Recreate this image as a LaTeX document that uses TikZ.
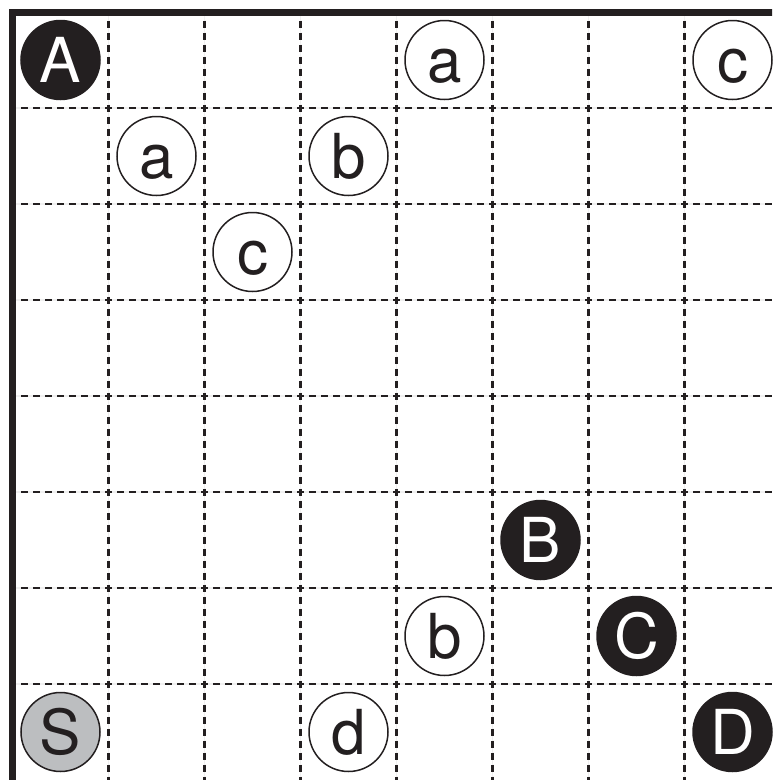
\documentclass[tikz,border=0pt]{standalone}
\usepackage{fontspec}
\setmainfont{TeX Gyre Heros}
\definecolor{ink}{HTML}{231F20}
\definecolor{sgray}{HTML}{BCBEC0}
\begin{document}
\begin{tikzpicture}[x=1pt,y=-1pt,
  gridline/.style={ink,line width=2.4pt,dash pattern=on 7pt off 5pt,dash phase=3.5pt},
  faint/.style={black!6,line width=1.5pt},
  border/.style={ink,line width=7pt,line join=miter},
  piece/.style={circle,draw=ink,line width=1.5pt,minimum size=79pt,inner sep=0pt,
    text height=45pt,text depth=0pt,font=\fontsize{62}{62}\selectfont,fill=white,text=ink},
  blackpiece/.style={piece,fill=ink,text=white},
  graypiece/.style={piece,fill=sgray}]
\useasboundingbox (0,0) rectangle (772,780);
\begin{scope}
\clip (0,0) rectangle (772,780);
\foreach \k in {1,...,7}{
  \draw[faint] ({12.5+96*\k},12) -- ({12.5+96*\k},780);
  \draw[faint] (12.5,{12+96*\k}) -- (772,{12+96*\k});
  \draw[gridline] ({12.5+96*\k},12) -- ({12.5+96*\k},784);
  \draw[gridline] (12.5,{12+96*\k}) -- (784,{12+96*\k});
}
\draw[border] (780,12) -- (12.5,12) -- (12.5,790);
\end{scope}
\node[blackpiece] (A)  at (60.5,60) {A};
\node[piece]      (a1) at ({60.5+96*4},60) {a};
\node[piece]      (c1) at ({60.5+96*7},60) {c};
\node[piece]      (a2) at ({60.5+96*1},{60+96*1}) {a};
\node[piece]      (b1) at ({60.5+96*3},{60+96*1}) {b};
\node[piece]      (c2) at ({60.5+96*2},{60+96*2}) {c};
\node[blackpiece] (B)  at ({60.5+96*5},{60+96*5}) {B};
\node[piece]      (b2) at ({60.5+96*4},{60+96*6}) {b};
\node[blackpiece] (C)  at ({60.5+96*6},{60+96*6}) {C};
\node[graypiece]  (S)  at (60.5,{60+96*7}) {S};
\node[piece]      (d)  at ({60.5+96*3},{60+96*7}) {d};
\node[blackpiece] (D)  at ({60.5+96*7},{60+96*7}) {D};
\end{tikzpicture}
\end{document}
